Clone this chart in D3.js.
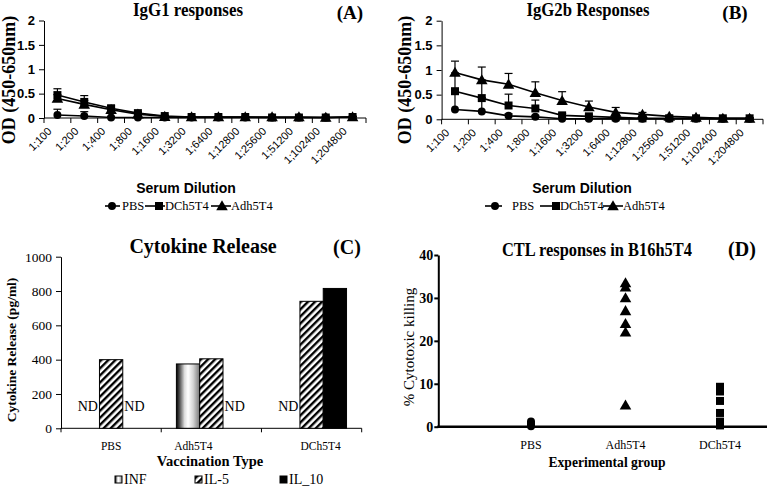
<!DOCTYPE html>
<html><head><meta charset="utf-8">
<script src="https://cdn.jsdelivr.net/npm/d3@7"></script>
<style>
body{margin:0;background:#fff;}
svg{display:block;}
text{fill:#000;}
</style></head>
<body>
<svg id="chart" width="767" height="489"></svg>
<script>
// ---------- DATA ----------
const dilutions = ["1;100","1;200","1;400","1;800","1;1600","1;3200","1;6400","1;12800","1;25600","1;51200","1;102400","1;204800"];
const odTicks = [0, 0.5, 1, 1.5, 2];

const igg1PBS    = [0.06,0.04,0.01,0.01,0.01,0.01,0.01,0.01,0.01,0.01,0.01,0.02];
const igg1PBSErr = [0.12,0.09,0.02,0.01,0.01,0.01,0.01,0.01,0.01,0.01,0.01,0.01];
const igg1DCh    = [0.47,0.33,0.20,0.10,0.04,0.02,0.02,0.02,0.01,0.01,0.01,0.02];
const igg1DChErr = [0.13,0.13,0.05,0.03,0.02,0.01,0.01,0.01,0.01,0.01,0.01,0.01];
const igg1Adh    = [0.40,0.28,0.17,0.08,0.03,0.02,0.02,0.02,0.02,0.02,0.01,0.02];
const igg1AdhErr = [0.08,0.08,0.04,0.03,0.02,0.01,0.01,0.01,0.01,0.01,0.01,0.01];

const igg2bPBS    = [0.20,0.16,0.07,0.05,0.01,0.01,0.01,0.01,0.01,0.01,0.01,0.01];
const igg2bPBSErr = [0.35,0.28,0.04,0.03,0.01,0.01,0.01,0.01,0.01,0.01,0.01,0.01];
const igg2bDCh    = [0.57,0.43,0.28,0.22,0.08,0.06,0.04,0.02,0.02,0.02,0.02,0.02];
const igg2bDChErr = [0.37,0.37,0.23,0.17,0.04,0.03,0.02,0.01,0.01,0.01,0.01,0.01];
const igg2bAdh    = [0.95,0.80,0.71,0.54,0.38,0.25,0.14,0.10,0.06,0.04,0.02,0.02];
const igg2bAdhErr = [0.23,0.26,0.22,0.22,0.18,0.12,0.10,0.04,0.02,0.01,0.01,0.01];

const vaccGroups = ["PBS","Adh5T4","DCh5T4"];
const cytokines  = ["INF","IL-5","IL_10"];
const cytINF  = [null, 375, null];
const cytIL5  = [400, 405, 740];
const cytIL10 = [null, null, 815];
const cytTicks = [0,200,400,600,800,1000];

const ctlGroups = ["PBS","Adh5T4","DCh5T4"];
const ctlPBS = [1.2, 0.8, 0.4, 0.1];
const ctlAdh = [33.5, 32.5, 30, 27, 24, 22, 5];
const ctlDCh = [9.3, 8.2, 6, 3.2, 1.2, 0.3];
const ctlTicks = [0,10,20,30,40];

// ---------- SETUP ----------
const svg = d3.select("#chart");
const SERIF = "'Liberation Serif','Times New Roman',serif";
const SANS  = "'Liberation Sans',Arial,sans-serif";
const defs = svg.append("defs");

const grad = defs.append("linearGradient").attr("id","cyl").attr("x1","0%").attr("x2","100%").attr("y1","0%").attr("y2","0%");
[[0,"#000"],[0.12,"#444"],[0.35,"#ddd"],[0.5,"#fff"],[0.72,"#d4d4d4"],[1,"#777"]].forEach(s=>
  grad.append("stop").attr("offset",s[0]).attr("stop-color",s[1]));

const hatch = defs.append("pattern").attr("id","hatch").attr("patternUnits","userSpaceOnUse")
  .attr("width",5).attr("height",5).attr("patternTransform","rotate(45)");
hatch.append("rect").attr("width",5).attr("height",5).attr("fill","#fff");
hatch.append("rect").attr("x",0).attr("width",2.4).attr("height",5).attr("fill","#000");

const symType = {circle:d3.symbolCircle, square:d3.symbolSquare, triangle:d3.symbolTriangle};
const symSize = {circle:50, square:64, triangle:58};

function sym(g, type, x, y){
  g.append("path").attr("d", d3.symbol().type(symType[type]).size(symSize[type])())
    .attr("transform", `translate(${x},${y + (type==="triangle"?1:0)})`).attr("fill","#000");
}

// ---------- LINE PANELS (A, B) ----------
function linePanel(cfg){
  const g = svg.append("g");
  const x = d3.scaleBand().domain(dilutions).range([cfg.x0, cfg.x1]);
  const y = d3.scaleLinear().domain([0,2]).range([cfg.yb, cfg.yt]);
  const ya = g.append("g").attr("transform",`translate(${cfg.x0},0)`)
    .call(d3.axisLeft(y).tickValues(odTicks).tickFormat(d=>d).tickSize(5).tickSizeOuter(0));
  ya.select(".domain").attr("stroke","#000");
  ya.selectAll("text").attr("font-family",SANS).attr("font-weight","bold").attr("font-size",13).attr("dx",-1);
  g.append("line").attr("x1",cfg.x0).attr("x2",cfg.x1).attr("y1",y(0)).attr("y2",y(0)).attr("stroke","#000");
  const bounds = dilutions.map(d=>x(d)).concat([cfg.x1]);
  g.selectAll(".xt").data(bounds).enter().append("line")
    .attr("x1",d=>d).attr("x2",d=>d).attr("y1",y(0)).attr("y2",y(0)+5).attr("stroke","#000");
  g.selectAll(".xl").data(dilutions).enter().append("text")
    .attr("transform",d=>`translate(${x(d)+x.bandwidth()/2-5},${y(0)+14}) rotate(-45)`)
    .attr("text-anchor","end").attr("font-family",SANS).attr("font-size",11).text(d=>d);
  cfg.series.forEach(s=>{
    const cx = i=>x(dilutions[i])+x.bandwidth()/2;
    s.values.forEach((v,i)=>{
      const top = y(v + s.err[i]);
      g.append("line").attr("x1",cx(i)).attr("x2",cx(i)).attr("y1",y(v)).attr("y2",top).attr("stroke","#000").attr("stroke-width",1.2);
      g.append("line").attr("x1",cx(i)-4).attr("x2",cx(i)+4).attr("y1",top).attr("y2",top).attr("stroke","#000").attr("stroke-width",1.2);
    });
  });
  cfg.series.forEach(s=>{
    const line = d3.line().x((d,i)=>x(dilutions[i])+x.bandwidth()/2).y(d=>y(d));
    g.append("path").attr("d",line(s.values)).attr("fill","none").attr("stroke","#000").attr("stroke-width",1.6);
  });
  cfg.series.forEach(s=>{
    s.values.forEach((v,i)=>sym(g, s.marker, x(dilutions[i])+x.bandwidth()/2, y(v)));
  });
  g.append("text").attr("x",cfg.titleX).attr("y",16).attr("text-anchor","middle")
    .attr("font-family",SERIF).attr("font-weight","bold").attr("font-size",18)
    .attr("textLength",cfg.titleLen).attr("lengthAdjust","spacingAndGlyphs").text(cfg.title);
  g.append("text").attr("x",cfg.tagX).attr("y",19).attr("text-anchor","middle")
    .attr("font-family",SERIF).attr("font-weight","bold").attr("font-size",19).text(cfg.tag);
  g.append("text").attr("transform",`translate(${cfg.ytX},80) rotate(-90)`).attr("text-anchor","middle")
    .attr("font-family",SERIF).attr("font-weight","bold").attr("font-size",18).text("OD (450-650nm)");
  g.append("text").attr("x",cfg.xtX).attr("y",193).attr("text-anchor","middle")
    .attr("font-family",SANS).attr("font-weight","bold").attr("font-size",14).text("Serum Dilution");
  cfg.legend.forEach(l=>{
    const s = cfg.series.find(q=>q.name===l.name);
    g.append("line").attr("x1",l.l0).attr("x2",l.l1).attr("y1",206).attr("y2",206).attr("stroke","#000").attr("stroke-width",1.6);
    sym(g, s.marker, l.m, 206);
    g.append("text").attr("x",l.t).attr("y",210).attr("font-family",SERIF).attr("font-size",12.5).text(l.name);
  });
}

linePanel({
  x0:44, x1:366, yb:118, yt:20.5,
  title:"IgG1 responses", titleX:188, titleLen:110, tag:"(A)", tagX:350, ytX:15, xtX:186,
  series:[
    {name:"PBS", values:igg1PBS, err:igg1PBSErr, marker:"circle"},
    {name:"DCh5T4", values:igg1DCh, err:igg1DChErr, marker:"square"},
    {name:"Adh5T4", values:igg1Adh, err:igg1AdhErr, marker:"triangle"}
  ],
  legend:[
    {name:"PBS", l0:105, l1:120, m:112, t:122},
    {name:"DCh5T4", l0:145, l1:165, m:159, t:165},
    {name:"Adh5T4", l0:211, l1:231, m:222, t:231}
  ]
});

linePanel({
  x0:441.6, x1:763, yb:119.3, yt:20.7,
  title:"IgG2b Responses", titleX:588, titleLen:123, tag:"(B)", tagX:735, ytX:411, xtX:582,
  series:[
    {name:"PBS", values:igg2bPBS, err:igg2bPBSErr, marker:"circle"},
    {name:"DCh5T4", values:igg2bDCh, err:igg2bDChErr, marker:"square"},
    {name:"Adh5T4", values:igg2bAdh, err:igg2bAdhErr, marker:"triangle"}
  ],
  legend:[
    {name:"PBS", l0:485, l1:502, m:495, t:512},
    {name:"DCh5T4", l0:540, l1:560, m:556, t:560},
    {name:"Adh5T4", l0:603, l1:623, m:613, t:623}
  ]
});

// ---------- PANEL C ----------
(function(){
  const g = svg.append("g");
  const x = d3.scaleBand().domain(vaccGroups).range([61,361.7]);
  const y = d3.scaleLinear().domain([0,1000]).range([428.3,256.7]);
  const barW = 23.3;
  const inner = d3.scaleBand().domain(cytokines).range([-barW*1.5, barW*1.5]);
  const ya = g.append("g").attr("transform","translate(61,0)")
    .call(d3.axisLeft(y).tickValues(cytTicks).tickFormat(d3.format("d")).tickSize(5).tickSizeOuter(0));
  ya.selectAll("text").attr("font-family",SERIF).attr("font-size",13.5).attr("dx",-1);
  g.append("line").attr("x1",61).attr("x2",361.7).attr("y1",y(0)).attr("y2",y(0)).attr("stroke","#000");
  const bounds = vaccGroups.map(d=>x(d)).concat([361.7]);
  g.selectAll(".xt").data(bounds).enter().append("line")
    .attr("x1",d=>d).attr("x2",d=>d).attr("y1",y(0)).attr("y2",y(0)+4).attr("stroke","#000");
  const labelDx = [0,-18,9];
  g.selectAll(".xl").data(vaccGroups).enter().append("text")
    .attr("x",(d,i)=>x(d)+x.bandwidth()/2+labelDx[i]).attr("y",450).attr("text-anchor","middle")
    .attr("font-family",SERIF).attr("font-size",11.5).text(d=>d);
  const seriesVals = [cytINF, cytIL5, cytIL10];
  const fills = ["url(#cyl)","url(#hatch)","#000"];
  seriesVals.forEach((vals,k)=>{
    vals.forEach((v,i)=>{
      const cx = x(vaccGroups[i])+x.bandwidth()/2 + inner(cytokines[k]);
      if(v===null){
        g.append("text").attr("x",cx+inner.bandwidth()/2).attr("y",411).attr("text-anchor","middle")
          .attr("font-family",SERIF).attr("font-size",14).text("ND");
      } else {
        g.append("rect").attr("x",cx).attr("y",y(v)).attr("width",inner.bandwidth()).attr("height",y(0)-y(v))
          .attr("fill",fills[k]).attr("stroke","#000").attr("stroke-width",1);
      }
    });
  });
  g.append("text").attr("x",203).attr("y",253).attr("text-anchor","middle")
    .attr("font-family",SERIF).attr("font-weight","bold").attr("font-size",20).text("Cytokine Release");
  g.append("text").attr("x",347).attr("y",254).attr("text-anchor","middle")
    .attr("font-family",SERIF).attr("font-weight","bold").attr("font-size",20).text("(C)");
  g.append("text").attr("transform","translate(16,350) rotate(-90)").attr("text-anchor","middle")
    .attr("font-family",SERIF).attr("font-weight","bold").attr("font-size",13.5).text("Cytokine Release (pg/ml)");
  g.append("text").attr("x",210).attr("y",466).attr("text-anchor","middle")
    .attr("font-family",SERIF).attr("font-weight","bold").attr("font-size",14.5).text("Vaccination Type");
  const legX = [115, 195, 280];
  cytokines.forEach((c,k)=>{
    g.append("rect").attr("x",legX[k]).attr("y",476).attr("width",7).attr("height",7)
      .attr("fill",fills[k]).attr("stroke","#000").attr("stroke-width",1);
    g.append("text").attr("x",legX[k]+9).attr("y",484).attr("font-family",SERIF).attr("font-size",14).text(c);
  });
})();

// ---------- PANEL D ----------
(function(){
  const g = svg.append("g");
  const x = d3.scalePoint().domain(ctlGroups).range([531,720]);
  const y = d3.scaleLinear().domain([0,40]).range([426.7,255]);
  const ya = g.append("g").attr("transform","translate(438.3,0)")
    .call(d3.axisLeft(y).tickValues(ctlTicks).tickSize(4).tickPadding(1).tickSizeOuter(0));
  ya.select(".domain").attr("stroke-width",2);
  ya.selectAll(".tick line").attr("stroke-width",2);
  ya.selectAll("text").attr("font-family",SERIF).attr("font-weight","bold").attr("font-size",14);
  g.append("line").attr("x1",437.3).attr("x2",767).attr("y1",y(0)).attr("y2",y(0)).attr("stroke","#000").attr("stroke-width",2.5);
  g.selectAll(".xl").data(ctlGroups).enter().append("text")
    .attr("x",d=>x(d)).attr("y",449).attr("text-anchor","middle")
    .attr("font-family",SERIF).attr("font-size",12).text(d=>d);
  ctlPBS.forEach(v=>sym(g,"circle",x("PBS"),y(v)));
  ctlAdh.forEach(v=>sym(g,"triangle",x("Adh5T4"),y(v)));
  ctlDCh.forEach(v=>sym(g,"square",x("DCh5T4"),y(v)));
  g.append("text").attr("x",597).attr("y",256).attr("text-anchor","middle")
    .attr("font-family",SERIF).attr("font-weight","bold").attr("font-size",19)
    .attr("textLength",190).attr("lengthAdjust","spacingAndGlyphs").text("CTL responses in B16h5T4");
  g.append("text").attr("x",742).attr("y",256).attr("text-anchor","middle")
    .attr("font-family",SERIF).attr("font-weight","bold").attr("font-size",20).text("(D)");
  g.append("text").attr("transform","translate(414,347) rotate(-90)").attr("text-anchor","middle")
    .attr("font-family",SERIF).attr("font-size",15).text("% Cytotoxic killing");
  g.append("text").attr("x",607).attr("y",467).attr("text-anchor","middle")
    .attr("font-family",SERIF).attr("font-weight","bold").attr("font-size",15)
    .attr("textLength",117).attr("lengthAdjust","spacingAndGlyphs").text("Experimental group");
})();
</script>
</body></html>
